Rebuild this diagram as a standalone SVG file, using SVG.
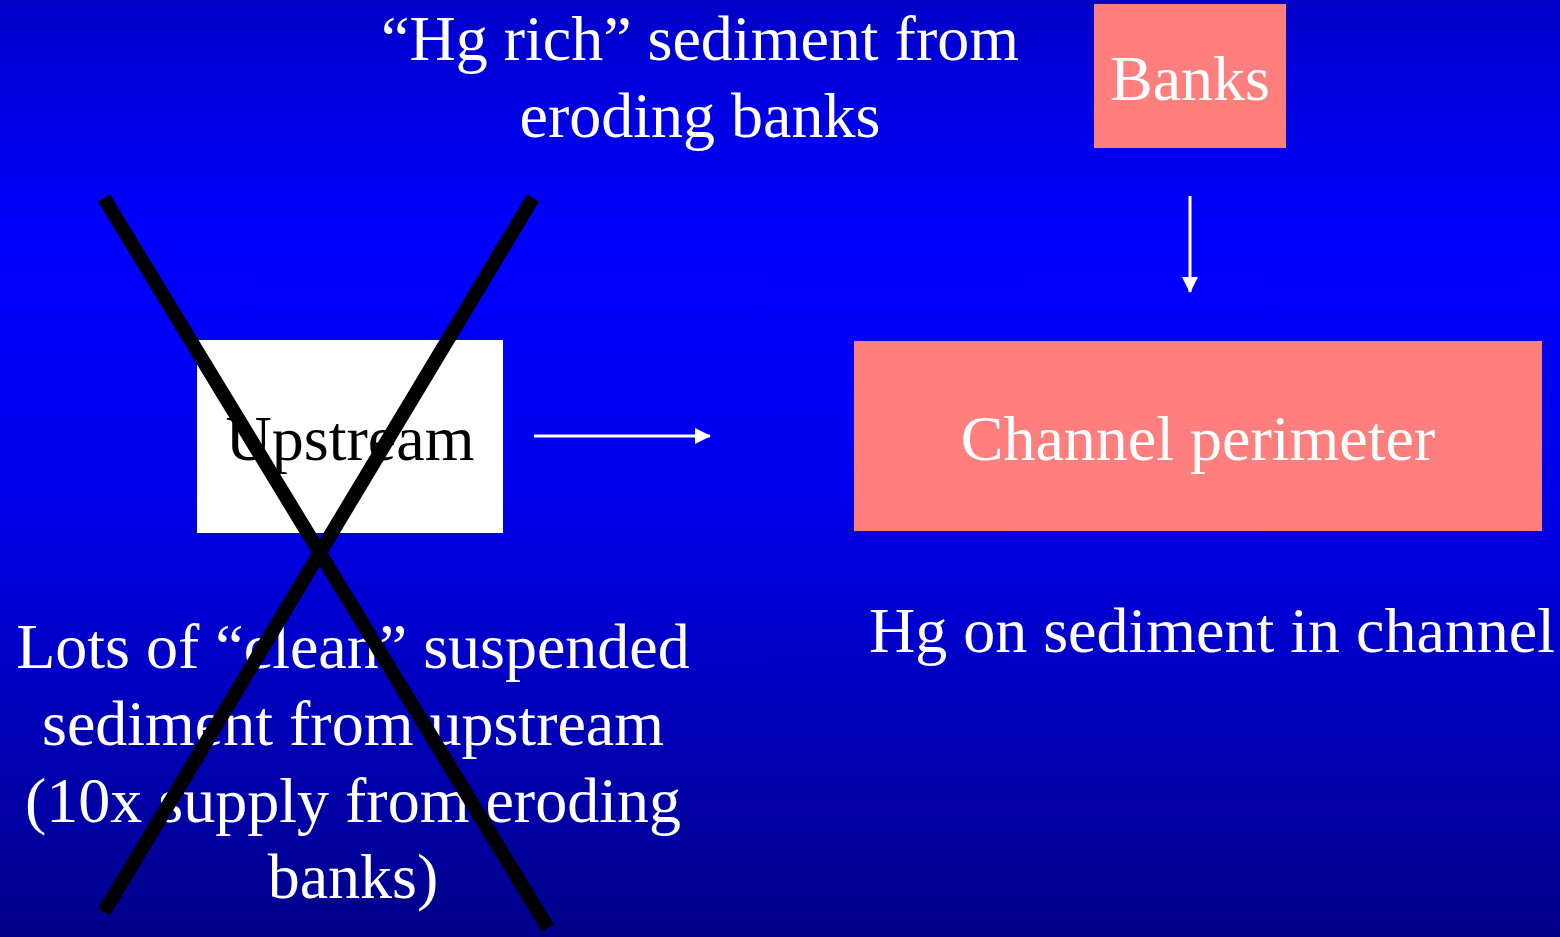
<svg xmlns="http://www.w3.org/2000/svg" width="1560" height="937" viewBox="0 0 1560 937">
<defs>
<linearGradient id="bg" x1="0" y1="0" x2="0" y2="1">
<stop offset="0" stop-color="#0000c8"/>
<stop offset="0.25" stop-color="#0000ff"/>
<stop offset="0.5" stop-color="#0000f0"/>
<stop offset="1" stop-color="#000088"/>
</linearGradient>
<marker id="ah" markerWidth="16" markerHeight="16" refX="15" refY="8" orient="auto" markerUnits="userSpaceOnUse">
<path d="M0,0 L16,8 L0,16 Z" fill="#fff"/>
</marker>
<style>
.t{font-family:"Liberation Serif","Times New Roman",serif;font-size:64px;fill:#fff;text-anchor:middle}
.pink{fill:#ff7f7f}
.conn{stroke:#fff;stroke-width:3;fill:none}
.x{stroke:#000;stroke-width:14}
</style>
</defs>
<rect width="1560" height="937" fill="url(#bg)"/>
<g id="label-top">
<text class="t" x="700" y="60">“Hg rich” sediment from</text>
<text class="t" x="700" y="137">eroding banks</text>
</g>
<g id="banks">
<rect class="pink" x="1094" y="4" width="192" height="144"/>
<text class="t" x="1190" y="100">Banks</text>
</g>
<g id="upstream">
<rect x="197" y="340" width="306" height="193" fill="#fff"/>
<text class="t" x="350" y="460" style="fill:#000">Upstream</text>
</g>
<g id="channel">
<rect class="pink" x="854" y="341" width="688" height="190"/>
<text class="t" x="1198" y="460">Channel perimeter</text>
</g>
<g id="label-channel">
<text class="t" x="1212" y="652">Hg on sediment in channel</text>
</g>
<g id="label-upstream">
<text class="t" x="353" y="668">Lots of “clean” suspended</text>
<text class="t" x="353" y="745">sediment from upstream</text>
<text class="t" x="353" y="822">(10x supply from eroding</text>
<text class="t" x="353" y="898">banks)</text>
</g>
<g id="connectors">
<line class="conn" x1="1190" y1="196" x2="1190" y2="292" marker-end="url(#ah)"/>
<line class="conn" x1="534" y1="436" x2="710" y2="436" marker-end="url(#ah)"/>
</g>
<g id="cross">
<line class="x" x1="104" y1="198" x2="548" y2="928"/>
<line class="x" x1="533" y1="198" x2="104" y2="912"/>
</g>
</svg>
